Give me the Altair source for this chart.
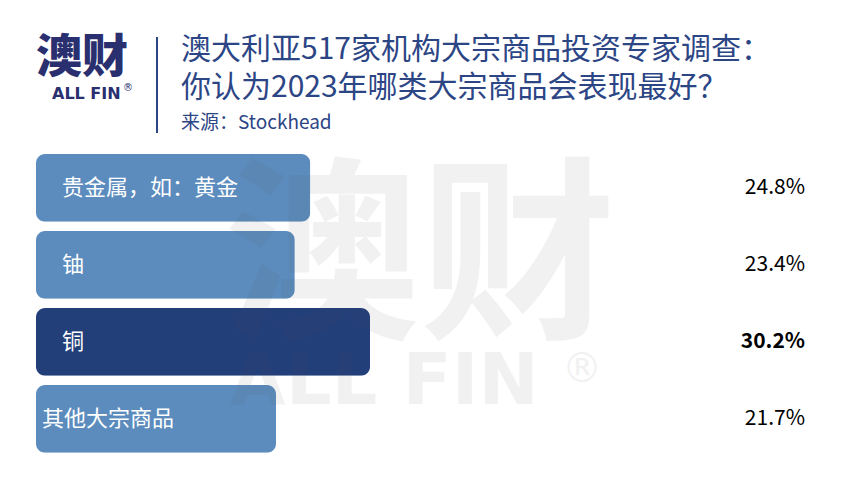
import altair as alt
import pandas as pd

categories = ["贵金属，如：黄金", "铀", "铜", "其他大宗商品"]
values = [24.8, 23.4, 30.2, 21.7]
value_labels = ["24.8%", "23.4%", "30.2%", "21.7%"]
highlight = [False, False, True, False]

title_lines = ["澳大利亚517家机构大宗商品投资专家调查：", "你认为2023年哪类大宗商品会表现最好？"]
subtitle = "来源：Stockhead"

df = pd.DataFrame({
    "cat": categories,
    "val": values,
    "lab": value_labels,
    "hi": ["top" if h else "base" for h in highlight],
})

FONT = "Noto Sans CJK SC"
NAVY = "#2C4585"

y_enc = alt.Y("cat:N", sort=categories, axis=None,
              scale=alt.Scale(range=[141.4, 449.4], paddingInner=0.12, paddingOuter=0.06))
x_scale = alt.Scale(domain=[0, 30.2], range=[28, 362], zero=True, nice=False)

base = alt.Chart(df)

bars = base.mark_bar(cornerRadius=9).encode(
    x=alt.X("val:Q", scale=x_scale, axis=None),
    x2=alt.value(28),
    y=y_enc,
    color=alt.Color("hi:N", scale=alt.Scale(domain=["base", "top"], range=["#5B8CBD", "#233F7A"]), legend=None),
)

lab_main = base.transform_filter(alt.datum.cat != "其他大宗商品").mark_text(
    align="left", baseline="middle", font=FONT, fontSize=22, color="white", dx=26
).encode(x=alt.value(28), y=y_enc, text="cat:N")

lab_last = base.transform_filter(alt.datum.cat == "其他大宗商品").mark_text(
    align="left", baseline="middle", font=FONT, fontSize=22, color="white", dx=6
).encode(x=alt.value(28), y=y_enc, text="cat:N")

val_norm = base.transform_filter(alt.datum.hi == "base").mark_text(
    align="right", baseline="middle", font=FONT, fontSize=21, color="black"
).encode(x=alt.value(797), y=y_enc, text="lab:N")

val_bold = base.transform_filter(alt.datum.hi == "top").mark_text(
    align="right", baseline="middle", font=FONT, fontSize=21, color="black", fontWeight="bold"
).encode(x=alt.value(797), y=y_enc, text="lab:N")

one = alt.Chart(pd.DataFrame({"a": [0]}))

def txt(s, x, y, size, color, weight="normal", align="left", opacity=1.0, font=FONT):
    return one.mark_text(text=s, align=align, baseline="middle", font=font, fontSize=size,
                         color=color, fontWeight=weight, opacity=opacity).encode(
        x=alt.value(x), y=alt.value(y))

# watermark
WM = "#555555"
wm1 = txt("澳财", 216, 256, 196, WM, weight="bold", opacity=0.075)
wm2 = txt("ALL FIN", 222, 374, 72, WM, weight="bold", opacity=0.075, font="DejaVu Sans")
wm3 = txt("®", 554, 362, 40, WM, weight="normal", opacity=0.075, font="DejaVu Sans")

# logo
logo1 = txt("澳财", 28, 50, 46, "#2A2F6F", weight=900)
logo2 = txt("ALL FIN", 44, 86, 16, "#2A2F6F", weight="bold", font="DejaVu Sans")
logo3 = txt("®", 115, 80, 10, "#2A2F6F", font="DejaVu Sans")
vline = one.mark_rule(color=NAVY, strokeWidth=2).encode(
    x=alt.value(149), y=alt.value(29), y2=alt.value(125))

t1 = txt(title_lines[0], 173, 42, 30, NAVY)
t2 = txt(title_lines[1], 173, 80, 30, NAVY)
t3 = txt(subtitle, 173, 115, 19, NAVY)

chart = alt.layer(
    bars, lab_main, lab_last, val_norm, val_bold,
    wm1, wm2, wm3, logo1, logo2, logo3, vline, t1, t2, t3
).properties(
    width=825, height=473, padding=0, autosize="none", background="white"
).configure_view(stroke=None)

chart.save("out.html", embed_options={"renderer": "svg", "actions": False})
